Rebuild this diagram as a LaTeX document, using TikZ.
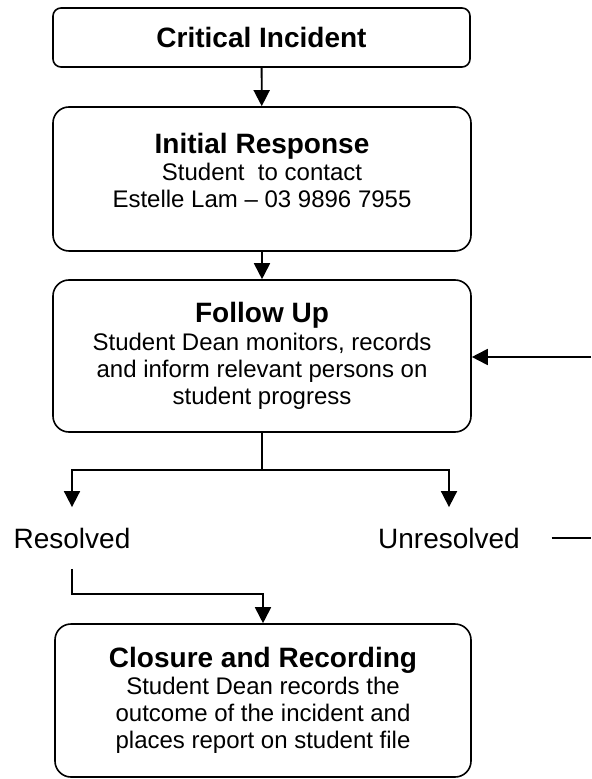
\documentclass[tikz,border=0pt]{standalone}
\usepackage{fontspec}
\setmainfont{Liberation Sans}
\usetikzlibrary{positioning, arrows.meta}
\newcommand{\stagetitle}[1]{{\fontsize{14}{16}\selectfont\bfseries #1}}

\begin{document}
\begin{tikzpicture}[x=0.5pt, y=-0.5pt, line width=0.9pt,
    stage/.style={draw, rounded corners=8pt, line width=0.8pt, align=center, inner sep=0pt,
      font=\fontsize{12}{13.6}\selectfont},
    outcome/.style={inner sep=0pt, minimum height=30pt, font=\fontsize{14}{16}\selectfont},
    flow/.style={-{Triangle[length=8pt, width=8pt]}}]
        \useasboundingbox (0,0) rectangle (591,779);

        \node[stage, rounded corners=4pt, minimum width=208.5pt, minimum height=29.5pt] (crit) at (261.5,37.5) {\stagetitle{Critical Incident}};
        \node[stage, minimum width=209pt, minimum height=72pt] (init) at (262,179) {\stagetitle{Initial Response}\\Student\ \ to contact\\Estelle Lam – 03 9896 7955\\[-5pt] \mbox{}};
        \node[stage, minimum width=209pt, minimum height=76pt] (fu) at (262,356) {\stagetitle{Follow Up}\\Student Dean monitors, records\\and inform relevant persons on\\student progress};
        \node[outcome] (res) at (72,538) {Resolved};
        \node[outcome] (unres) at (449,538) {Unresolved};
        \node[stage, minimum width=208pt, minimum height=76.5pt] (close) at (263,700.5) {\stagetitle{Closure and Recording}\\Student Dean records the\\outcome of the incident and\\places report on student file};

        \coordinate (split) at (262,470);
        \coordinate (join) at (72,594);
        \coordinate (loopin) at (591,538);
        \coordinate (loopout) at (591,357);

        \draw[flow] (crit) -- (init);
        \draw[flow] (init) -- (fu);
        \draw (fu) -- (split);
        \draw[flow] (split) -| (res);
        \draw[flow] (split) -| (unres);
        \draw[flow] (res) -- (join) -| (close);
        \draw[shorten <=15.5pt] (unres) -- (loopin);
        \draw[flow] (loopout) -- (loopout -| fu.east);
      \end{tikzpicture}
\end{document}
